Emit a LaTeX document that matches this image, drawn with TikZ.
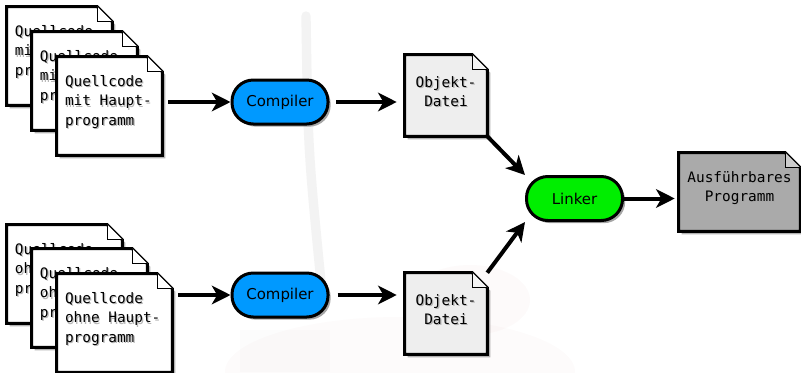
\documentclass[tikz,border=0pt]{standalone}
\usepackage{fontspec}
\setmainfont{DejaVu Sans}
\newfontfamily\docfont{DejaVu Sans Mono}
\usetikzlibrary{arrows.meta,shadows,calc}

\definecolor{compblue}{HTML}{0099FF}
\definecolor{linkgreen}{HTML}{00EE00}
\definecolor{objgray}{HTML}{EEEEEE}
\definecolor{exegray}{HTML}{AAAAAA}
\definecolor{markgray}{HTML}{F3F3F3}

\tikzset{
  pagebox/.style={rectangle, inner sep=0pt, draw=none},
  srcpage/.style={pagebox, minimum width=78.75pt, minimum height=73.5pt},
  srcpagewide/.style={pagebox, minimum width=86.25pt, minimum height=73.5pt},
  doctext/.style={inner sep=0pt, font=\docfont\fontsize{10.8}{14.5}\selectfont},
  lefttext/.style={align=left, anchor=north west},
  midtext/.style={align=center, anchor=center},
  tool/.style={rectangle, rounded corners=16pt, draw=black, line width=2.25pt,
    minimum width=72pt, minimum height=33pt, inner sep=0pt,
    font=\fontsize{11.2}{13}\selectfont,
    drop shadow={shadow xshift=2pt, shadow yshift=-2pt, opacity=0.35, fill=black}},
  arr/.style={line width=3pt, -{Stealth[length=14pt,width=14pt,inset=4pt]}},
}

% page with a folded top-right corner, drawn over a named node
\newcommand\dogear[2]{%
  \fill[black, opacity=0.3]
    ([shift={(3,3)}]#1.north west) -- ([shift={(-12,3)}]#1.north east)
    -- ([shift={(3,18)}]#1.north east) -- ([shift={(3,3)}]#1.south east)
    -- ([shift={(3,3)}]#1.south west) -- cycle;
  \draw[line width=2.25pt, line join=miter, fill=#2]
    (#1.north west) -- ([shift={(-15,0)}]#1.north east)
    -- ([shift={(0,15)}]#1.north east) -- (#1.south east)
    -- (#1.south west) -- cycle;
  \draw[line width=0.8pt, fill=#2!60!white]
    ([shift={(-15,0)}]#1.north east) -- ([shift={(-15,15)}]#1.north east)
    -- ([shift={(0,15)}]#1.north east);
}

% text with a soft grey shadow: name, placement style, reference point, dx, dy, content
\newcommand\shadowtext[6]{%
  \node[doctext, #2, text=black!35, opacity=0.8] (#1s) at ($(#3)+(#4+1.2,#5+1.2)$) {#6};
  \node[doctext, #2] (#1) at ($(#3)+(#4,#5)$) {#6};
}

\begin{document}
\begin{tikzpicture}[x=0.75pt, y=-0.75pt]
\useasboundingbox (0,0) rectangle (801,372);
\fill[white] (0,0) rectangle (801,372);

% faint robot in the background
\begin{scope}
  \clip (0,0) rectangle (801,372);
  \draw[markgray, line width=7pt, line cap=round] (306,16) .. controls (308,150) .. (322,292);
  \fill[red!40!gray, opacity=0.02] (400,372) ellipse (175 and 55);
  \fill[gray, opacity=0.025] (240,330) rectangle (330,372);
  \fill[red!50!gray, opacity=0.025] (470,300) ellipse (60 and 35);
\end{scope}

% source files with main program
\node[srcpage] (A1) at (59.5,56) {};
\dogear{A1}{white}
\shadowtext{A1t}{lefttext}{A1.north west}{8}{18.5}{Quellcode\\mit Haupt-\\programm}
\node[srcpage] (A2) at (84.5,81) {};
\dogear{A2}{white}
\shadowtext{A2t}{lefttext}{A2.north west}{8}{18.5}{Quellcode\\mit Haupt-\\programm}
\node[srcpage] (A3) at (109.5,106) {};
\dogear{A3}{white}
\shadowtext{A3t}{lefttext}{A3.north west}{8}{18.5}{Quellcode\\mit Haupt-\\programm}

% source files without main program
\node[srcpagewide] (B1) at (64.5,274) {};
\dogear{B1}{white}
\shadowtext{B1t}{lefttext}{B1.north west}{8}{18.5}{Quellcode\\ohne Haupt-\\programm}
\node[srcpagewide] (B2) at (89.5,298) {};
\dogear{B2}{white}
\shadowtext{B2t}{lefttext}{B2.north west}{8}{18.5}{Quellcode\\ohne Haupt-\\programm}
\node[srcpagewide] (B3) at (114.5,323) {};
\dogear{B3}{white}
\shadowtext{B3t}{lefttext}{B3.north west}{8}{18.5}{Quellcode\\ohne Haupt-\\programm}

% compilers
\node[tool, fill=compblue] (compA) at (280,102) {Compiler};
\node[tool, fill=compblue] (compB) at (280,295) {Compiler};

% object files
\node[pagebox, minimum width=61.5pt, minimum height=60.75pt] (objA) at (446,95.5) {};
\dogear{objA}{objgray}
\shadowtext{objAt}{midtext}{objA.center}{0}{-4}{Objekt-\\Datei}
\node[pagebox, minimum width=61.5pt, minimum height=60.75pt] (objB) at (446,313.5) {};
\dogear{objB}{objgray}
\shadowtext{objBt}{midtext}{objB.center}{0}{-4}{Objekt-\\Datei}

% linker
\node[tool, fill=linkgreen] (linker) at (574.5,198.5) {Linker};

% executable
\node[pagebox, minimum width=90.75pt, minimum height=58.5pt] (exe) at (739.5,192) {};
\dogear{exe}{exegray}
\shadowtext{exet}{midtext}{exe.center}{0}{-4}{Ausführbares\\Programm}

% connectors
\draw[arr, shorten <=4.5pt] (A3.east |- compA.west) -- (compA.west);
\draw[arr, shorten <=4.5pt] (B3.east |- compB.west) -- (compB.west);
\draw[arr, shorten <=5pt, shorten >=6pt] (compA.east) -- (compA.east -| objA.west);
\draw[arr, shorten <=6pt, shorten >=6pt] (compB.east) -- (compB.east -| objB.west);
\draw[arr] (objA.south east) -- (linker.north west);
\draw[arr] (objB.north east) -- (linker.south west);
\draw[arr, shorten >=3pt] (linker.east) -- (linker.east -| exe.west);
\end{tikzpicture}
\end{document}
